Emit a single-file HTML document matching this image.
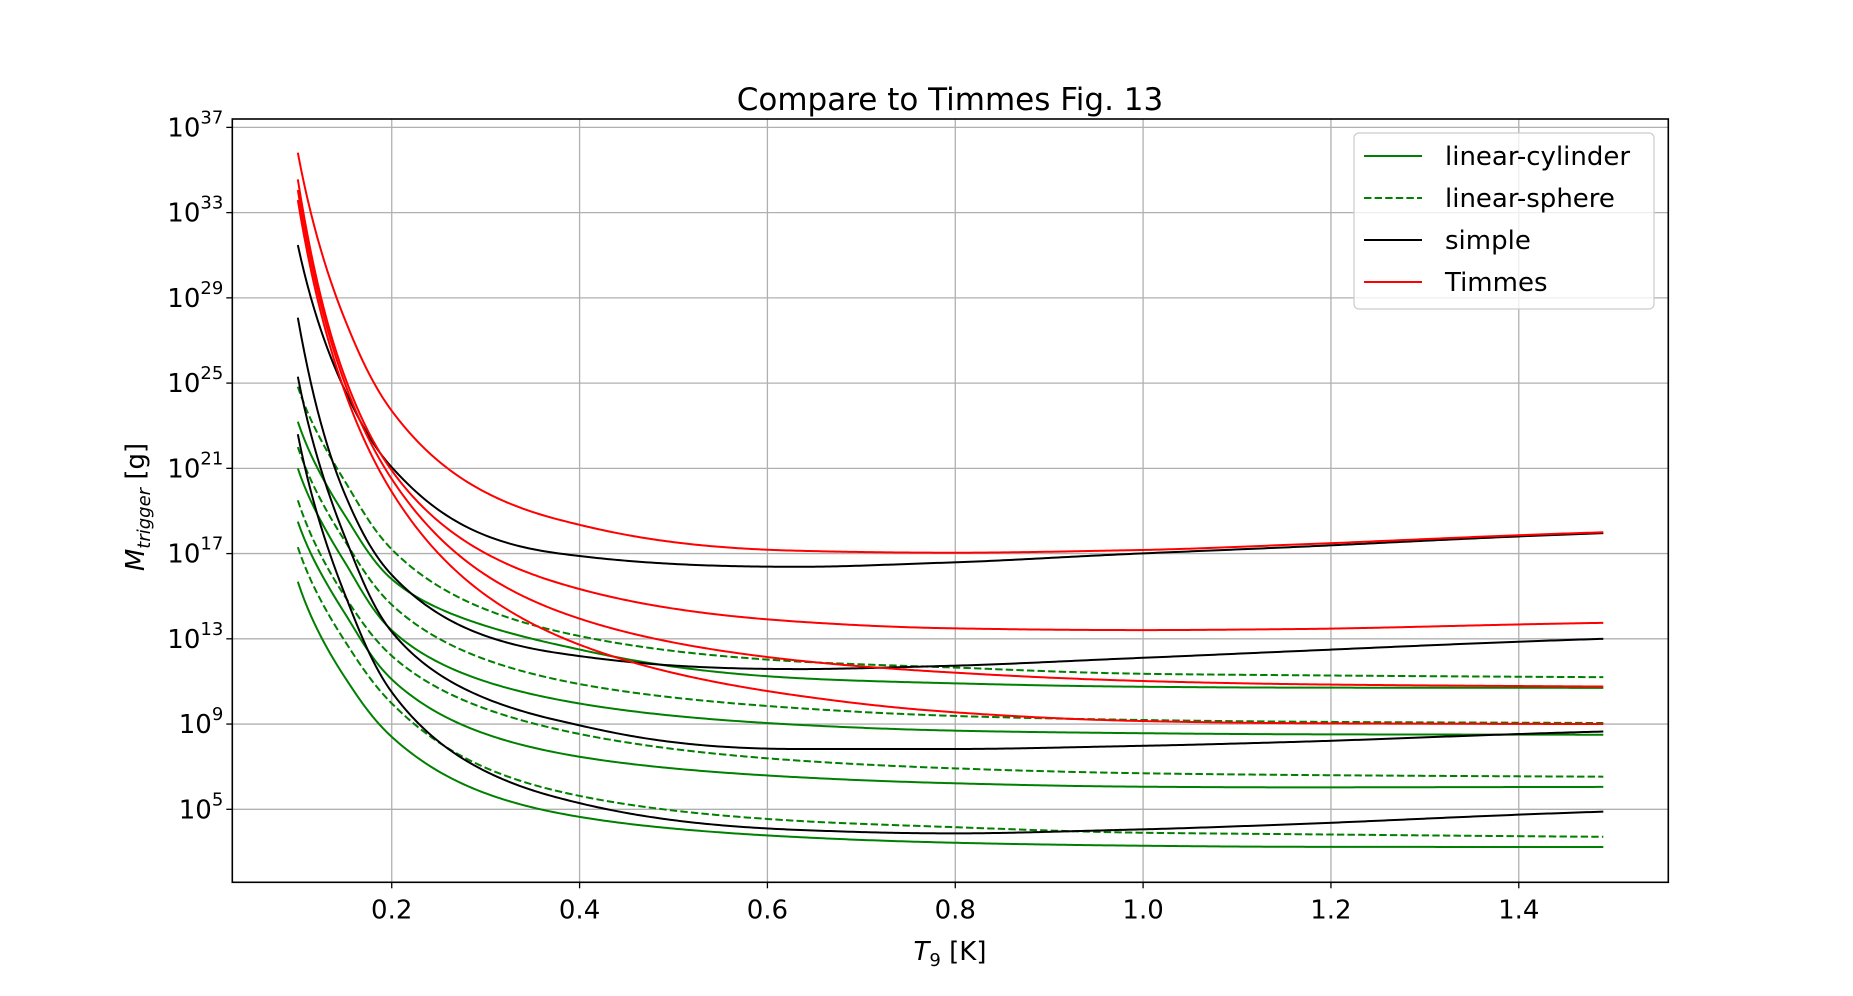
<!DOCTYPE html>
<html><head><meta charset="utf-8"><style>
html,body{margin:0;padding:0;background:#fff;}
svg text{font-family:"DejaVu Sans","Liberation Sans",sans-serif;fill:#000;}
</style></head><body>
<svg id="chart" width="1853" height="991" viewBox="0 0 1853 991" xmlns="http://www.w3.org/2000/svg">
<rect width="1853" height="991" fill="#fff"/>
<g id="grid"></g>
<g id="series"></g>
<rect x="232.3" y="119" width="1436" height="763.3" fill="none" stroke="#000" stroke-width="1.6"/>
<g id="ticks"></g>
<text x="950" y="110" font-size="31" text-anchor="middle">Compare to Timmes Fig. 13</text>
<text x="950" y="960" font-size="26" text-anchor="middle"><tspan font-style="italic">T</tspan><tspan font-size="18" dy="6">9</tspan><tspan dy="-6"> [K]</tspan></text>
<text transform="translate(144,507) rotate(-90)" font-size="26" text-anchor="middle"><tspan font-style="italic">M</tspan><tspan font-size="18" font-style="italic" dy="6">trigger</tspan><tspan dy="-6"> [g]</tspan></text>
<g>
<rect x="1354" y="133" width="300" height="176" rx="5" fill="#fff" fill-opacity="0.8" stroke="#ccc" stroke-width="1.2"/>
<line x1="1364" y1="156" x2="1422" y2="156" stroke="#008000" stroke-width="2"/>
<text x="1445" y="165" font-size="26">linear-cylinder</text>
<line x1="1364" y1="198" x2="1422" y2="198" stroke="#008000" stroke-width="2" stroke-dasharray="7.4,3.2"/>
<text x="1445" y="207" font-size="26">linear-sphere</text>
<line x1="1364" y1="240" x2="1422" y2="240" stroke="#000" stroke-width="2"/>
<text x="1445" y="249" font-size="26">simple</text>
<line x1="1364" y1="282" x2="1422" y2="282" stroke="#ff0000" stroke-width="2"/>
<text x="1445" y="291" font-size="26">Timmes</text>
</g>
</svg>
<script>
// data (log10 of M_trigger in grams) sampled at temperatures T9
const tValues = [0.1, 0.15, 0.2, 0.379, 0.635, 0.8, 1.0, 1.167, 1.49];
const xTicks = [0.2, 0.4, 0.6, 0.8, 1.0, 1.2, 1.4];
const xTickLabels = ["0.2", "0.4", "0.6", "0.8", "1.0", "1.2", "1.4"];
const yTickExps = [5, 9, 13, 17, 21, 25, 29, 33, 37];
const timmes1 = [35.81, 28.0, 23.7, 18.58, 17.13, 17.04, 17.17, 17.43, 18.0];
const timmes2 = [34.56, 25.3, 20.9, 15.6, 13.8, 13.49, 13.41, 13.46, 13.75];
const timmes3 = [34.06, 25.0, 20.5, 14.27, 11.97, 11.41, 11.02, 10.87, 10.76];
const timmes4 = [33.59, 24.6, 19.9, 13.1, 10.32, 9.55, 9.14, 9.04, 9.0];
const simple1 = [31.48, 24.68, 21.05, 17.0, 16.38, 16.59, 17.01, 17.32, 17.96];
const simple2 = [28.07, 19.8, 16.0, 12.32, 11.58, 11.74, 12.11, 12.43, 13.0];
const simple3 = [25.3, 17.8, 13.33, 9.15, 7.83, 7.83, 7.98, 8.17, 8.65];
const simple4 = [22.6, 15.1, 10.5, 5.52, 4.03, 3.87, 4.06, 4.31, 4.89];
const cyl1 = [23.19, 18.8, 15.8, 12.7, 11.15, 10.91, 10.75, 10.71, 10.7];
const cyl2 = [21.0, 16.6, 13.4, 10.13, 8.96, 8.69, 8.57, 8.52, 8.5];
const cyl3 = [18.5, 14.2, 11.1, 7.63, 6.5, 6.22, 6.06, 6.03, 6.05];
const cyl4 = [15.68, 11.2, 8.4, 4.81, 3.69, 3.43, 3.29, 3.24, 3.23];
const sph1 = [24.83, 20.4, 17.2, 13.33, 11.93, 11.65, 11.36, 11.29, 11.2];
const sph2 = [22.0, 17.6, 14.6, 11.06, 9.74, 9.38, 9.19, 9.11, 9.05];
const sph3 = [19.5, 15.0, 12.2, 8.73, 7.28, 6.92, 6.69, 6.61, 6.53];
const sph4 = [17.3, 12.9, 9.97, 5.83, 4.45, 4.16, 3.90, 3.83, 3.71];

const NS = "http://www.w3.org/2000/svg";
const X0 = 203.9, XS = 939.2, Y5 = 809.3, YS = 21.31;
const PL = 232.3, PR = 1668.3, PT = 119, PB = 882.3;
function xScale(t){ return X0 + XS * t; }
function yScale(v){ return Y5 - (v - 5) * YS; }
function mk(tag, attrs, parent){ const e = document.createElementNS(NS, tag); for (const k in attrs) e.setAttribute(k, attrs[k]); parent.appendChild(e); return e; }

const grid = document.getElementById('grid');
const ticks = document.getElementById('ticks');
xTicks.forEach((t, i) => {
  const x = xScale(t);
  const g = mk('line', {x1:x, x2:x, y1:PT, y2:PB, stroke:'#b0b0b0', 'stroke-width':1.3}, grid);
  
  
  const tk = mk('line', {x1:x, x2:x, y1:PB, y2:PB+6, stroke:'#000', 'stroke-width':1.3}, ticks);
  
  
  const lb = mk('text', {x:x, y:PB+36, 'font-size':26, 'text-anchor':'middle'}, ticks);
  lb.textContent = xTickLabels[i];
  
  
});
yTickExps.forEach(e => {
  const y = yScale(e);
  const g = mk('line', {x1:PL, x2:PR, y1:y, y2:y, stroke:'#b0b0b0', 'stroke-width':1.3}, grid);
  
  
  const tk = mk('line', {x1:PL-6, x2:PL, y1:y, y2:y, stroke:'#000', 'stroke-width':1.3}, ticks);
  
  
  const lb = mk('text', {x:PL-9, y:y+9, 'font-size':26, 'text-anchor':'end'}, ticks);
  lb.innerHTML = '10<tspan font-size="18" dy="-13">' + e + '</tspan>';
  
  
});

// monotone cubic interpolation in u = 1/T space
function makeInterp(vals){
  const us = tValues.map(t => 1/t).reverse();
  const vs = vals.slice().reverse();
  const n = us.length, d = [], m = new Array(n);
  for (let i = 0; i < n-1; i++) d.push((vs[i+1]-vs[i])/(us[i+1]-us[i]));
  m[0] = d[0]; m[n-1] = d[n-2];
  for (let i = 1; i < n-1; i++){
    if (d[i-1]*d[i] <= 0) m[i] = 0;
    else { const h0 = us[i]-us[i-1], h1 = us[i+1]-us[i];
      const w1 = 2*h1+h0, w2 = h1+2*h0;
      m[i] = (w1+w2)/(w1/d[i-1]+w2/d[i]); }
  }
  return function(t){
    const u = 1/t;
    let i = 0; while (i < n-2 && u > us[i+1]) i++;
    const h = us[i+1]-us[i], s = (u-us[i])/h;
    const h00 = 2*s*s*s-3*s*s+1, h10 = s*s*s-2*s*s+s, h01 = -2*s*s*s+3*s*s, h11 = s*s*s-s*s;
    return h00*vs[i] + h10*h*m[i] + h01*vs[i+1] + h11*h*m[i+1];
  };
}
function pathFor(vals){
  const f = makeInterp(vals);
  const t0 = tValues[0], t1 = tValues[tValues.length-1];
  let p = '';
  const N = 400;
  for (let k = 0; k <= N; k++){
    const t = t0 + (t1-t0)*k/N;
    p += (k ? ' L' : 'M') + xScale(t).toFixed(2) + ',' + yScale(f(t)).toFixed(2);
  }
  return p;
}
const seriesG = document.getElementById('series');
function draw(vals, color, dashed, name){
  const p = mk('path', {d:pathFor(vals), fill:'none', stroke:color, 'stroke-width':2, 'stroke-linejoin':'round'}, seriesG);
  if (dashed) p.setAttribute('stroke-dasharray', '7.4,3.2');
  
  
}
draw(cyl1, '#008000', false, 'linear-cylinder-line-1');
draw(cyl2, '#008000', false, 'linear-cylinder-line-2');
draw(cyl3, '#008000', false, 'linear-cylinder-line-3');
draw(cyl4, '#008000', false, 'linear-cylinder-line-4');
draw(sph1, '#008000', true, 'linear-sphere-line-1');
draw(sph2, '#008000', true, 'linear-sphere-line-2');
draw(sph3, '#008000', true, 'linear-sphere-line-3');
draw(sph4, '#008000', true, 'linear-sphere-line-4');
draw(simple1, '#000000', false, 'simple-line-1');
draw(simple2, '#000000', false, 'simple-line-2');
draw(simple3, '#000000', false, 'simple-line-3');
draw(simple4, '#000000', false, 'simple-line-4');
draw(timmes1, '#ff0000', false, 'timmes-line-1');
draw(timmes2, '#ff0000', false, 'timmes-line-2');
draw(timmes3, '#ff0000', false, 'timmes-line-3');
draw(timmes4, '#ff0000', false, 'timmes-line-4');
</script>
</body></html>
